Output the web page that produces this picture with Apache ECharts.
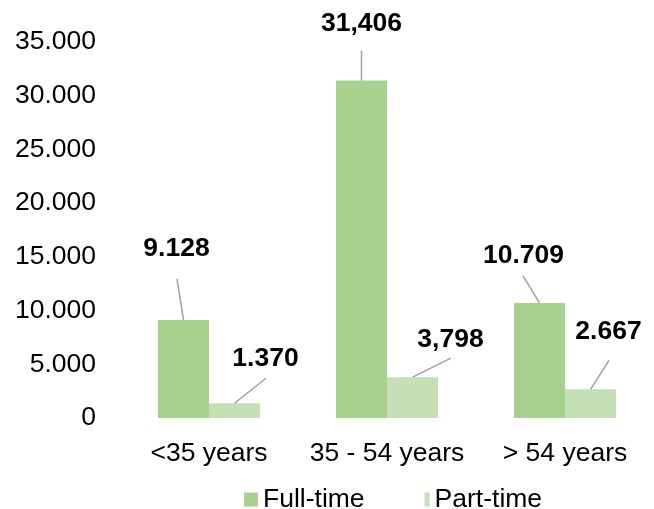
<!DOCTYPE html>
<html>
<head>
    <meta charset="UTF-8">
    <title>Employees by age group</title>
    <script src="https://cdn.jsdelivr.net/npm/echarts@6/dist/echarts.min.js"></script>
    <style>
        html, body { margin: 0; padding: 0; background: #fff; }
        #main { width: 654px; height: 509px; }
    </style>
</head>
<body>
<div id="main"></div>
<script type="text/javascript">
// data
var categories = ['<35 years', '35 - 54 years', '> 54 years'];
var fullTime = [9128, 31406, 10709];
var partTime = [1370, 3798, 2667];
// label texts as printed in the source (mixed separators)
var fullTimeLabels = ['9.128', '31,406', '10.709'];
var partTimeLabels = ['1.370', '3,798', '2.667'];
var yTickLabels = ['0', '5.000', '10.000', '15.000', '20.000', '25.000', '30.000', '35.000'];

// where each value label sits relative to the top centre of its bar (px)
var fullTimeOffsets = [[-7, -71], [0, -57], [-16, -47]];
var partTimeOffsets = [[31, -45], [38, -38], [18, -58]];
// where each leader line starts, same reference point
var fullTimeLineFrom = [[-6.5, -41], [0, -30], [-16.5, -27]];
var partTimeLineFrom = [[31.5, -25], [38.5, -19], [18.5, -29]];

var font = 'Liberation Sans, Arial, sans-serif';
var FS = 26.5;
var BAR_W = 51;

function layoutFor(offsets) {
    return function (p) {
        var o = offsets[p.dataIndex];
        return {
            x: p.rect.x + p.rect.width / 2 + o[0],
            y: p.rect.y + o[1],
            align: 'center',
            verticalAlign: 'middle'
        };
    };
}

function barSeries(name, values, texts, offsets) {
    return {
        name: name,
        type: 'bar',
        barWidth: BAR_W,
        barGap: '0%',
        data: values,
        label: {
            show: true,
            position: 'top',
            fontFamily: font,
            fontSize: FS,
            fontWeight: 'bold',
            color: '#000',
            formatter: function (p) { return texts[p.dataIndex]; }
        },
        labelLayout: layoutFor(offsets)
    };
}

// leader lines from label to bar top, placed through the axes
function leaderSeries(values, side, from) {
    return {
        type: 'custom',
        silent: true,
        z: 3,
        data: values.map(function (v, i) { return [i, v]; }),
        renderItem: function (params, api) {
            var top = api.coord([api.value(0), api.value(1)]);
            var x = top[0] + side * BAR_W / 2;
            var y = top[1];
            var f = from[params.dataIndex];
            return {
                type: 'line',
                shape: { x1: x + f[0], y1: y + f[1], x2: x, y2: y },
                style: { stroke: '#a0a0a0', lineWidth: 1.5 }
            };
        }
    };
}

var myChart = echarts.init(document.getElementById('main'));
var option = {
    animation: false,
    color: ['#a9d18e', '#c5e0b4'],
    grid: { left: 120, right: -1, top: 42, bottom: 91 },
    legend: {
        left: 244,
        top: 486,
        padding: 0,
        itemWidth: 14,
        itemHeight: 14,
        itemGap: 51,
        textStyle: { fontFamily: font, fontSize: FS, color: '#000' },
        data: [
            { name: 'Full-time', icon: 'rect' },
            { name: 'Part-time', icon: 'path://M0,0M9,0h5v14h-5z' }
        ]
    },
    xAxis: {
        type: 'category',
        data: categories,
        axisLine: { show: false },
        axisTick: { show: false },
        axisLabel: {
            fontFamily: font,
            fontSize: FS,
            color: '#000',
            margin: 22,
            interval: 0,
            hideOverlap: false
        }
    },
    yAxis: {
        type: 'value',
        min: 0,
        max: 35000,
        interval: 5000,
        splitLine: { show: false },
        axisLine: { show: false },
        axisTick: { show: false },
        axisLabel: {
            fontFamily: font,
            fontSize: FS,
            color: '#000',
            margin: 24,
            formatter: function (v) { return yTickLabels[Math.round(v / 5000)]; }
        }
    },
    series: [
        barSeries('Full-time', fullTime, fullTimeLabels, fullTimeOffsets),
        barSeries('Part-time', partTime, partTimeLabels, partTimeOffsets),
        leaderSeries(fullTime, -1, fullTimeLineFrom),
        leaderSeries(partTime, 1, partTimeLineFrom)
    ]
};
myChart.setOption(option);
</script>
</body>
</html>
